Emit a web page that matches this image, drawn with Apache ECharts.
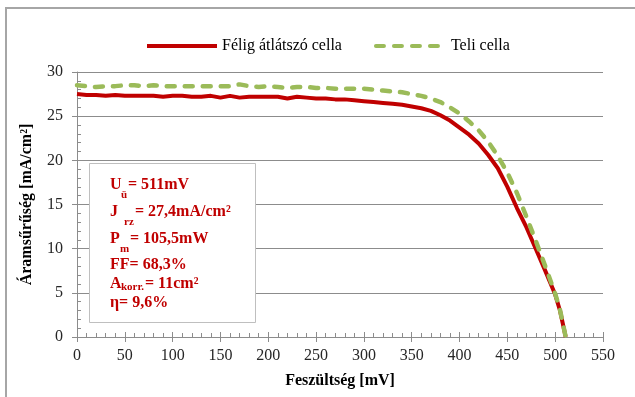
<!DOCTYPE html>
<html>
<head>
<meta charset="utf-8">
<script src="https://cdn.jsdelivr.net/npm/echarts@6/dist/echarts.min.js"></script>
<style>
  html, body { margin: 0; padding: 0; background: #fff; }
  #chart { width: 635px; height: 397px; }
</style>
</head>
<body>
<div id="chart"></div>
<script>
// feszültség [mV]
var voltage = [0, 10, 20, 30, 40, 50, 60, 70, 80, 90, 100, 110, 120, 130, 140, 150, 160, 170, 180, 190,
    200, 210, 220, 230, 240, 250, 260, 270, 280, 290, 300, 310, 320, 330, 340, 350, 360, 370, 380, 390,
    400, 410, 420, 430, 440, 450, 460, 470, 480, 490, 500, 505, 511];
// Félig átlátszó cella [mA/cm2]
var halfCell = [27.5, 27.4, 27.4, 27.3, 27.4, 27.3, 27.3, 27.3, 27.3, 27.2, 27.3, 27.3, 27.2, 27.2, 27.3, 27.1, 27.3, 27.1, 27.2, 27.2,
    27.2, 27.2, 27.0, 27.2, 27.1, 27.0, 27.0, 26.9, 26.9, 26.8, 26.7, 26.6, 26.5, 26.4, 26.3, 26.1, 25.9, 25.6, 25.1, 24.5,
    23.7, 22.9, 21.9, 20.6, 19.1, 17.0, 14.6, 12.4, 9.9, 7.4, 4.8, 3.0, 0];
// Teli cella [mA/cm2]
var fullCell = [28.5, 28.4, 28.3, 28.4, 28.4, 28.5, 28.5, 28.4, 28.5, 28.4, 28.4, 28.4, 28.4, 28.4, 28.4, 28.4, 28.4, 28.6, 28.4, 28.3,
    28.4, 28.3, 28.2, 28.3, 28.3, 28.2, 28.2, 28.1, 28.1, 28.1, 28.1, 28.0, 27.9, 27.8, 27.7, 27.5, 27.3, 27.0, 26.6, 26.0,
    25.3, 24.4, 23.4, 22.1, 20.5, 18.6, 16.3, 13.6, 10.8, 7.9, 4.9, 3.1, 0];

var seriesNames = ['Félig átlátszó cella', 'Teli cella'];

var font = 'Liberation Serif';
var red = '#c00000';
var green = '#9bbb59';
var axisGray = '#8c8c8c';

function pairs(ys) {
    var out = [];
    for (var i = 0; i < voltage.length; i++) {
        out.push([voltage[i], ys[i]]);
    }
    return out;
}

var chart = echarts.init(document.getElementById('chart'));

var boxText = function (x, y, text, size) {
    return {
        type: 'text',
        x: x,
        y: y,
        style: {
            text: text,
            fill: red,
            font: 'bold ' + size + 'px "' + font + '"',
            verticalAlign: 'middle'
        },
        z: 101
    };
};

var option = {
    animation: false,
    textStyle: { fontFamily: font },
    legend: {
        data: seriesNames,
        left: 140,
        top: 33,
        itemWidth: 70,
        itemHeight: 14,
        itemGap: 32,
        itemStyle: { opacity: 0 },
        lineStyle: { width: 4 },
        textStyle: { fontFamily: font, fontSize: 16, color: '#000' }
    },
    grid: {
        left: 77,
        right: 32,
        top: 72,
        bottom: 60,
        containLabel: false
    },
    xAxis: [{
        type: 'value',
        min: 0,
        max: 550,
        interval: 50,
        name: 'Feszültség [mV]',
        nameLocation: 'middle',
        nameGap: 36,
        nameTextStyle: { fontFamily: font, fontSize: 16, fontWeight: 'bold', color: '#000' },
        axisLine: { show: true, lineStyle: { color: axisGray, width: 1 } },
        axisTick: { show: true, length: 5, lineStyle: { color: axisGray } },
        axisLabel: { margin: 11, fontFamily: font, fontSize: 16, color: '#262626' },
        splitLine: { show: false }
    }, {
        type: 'value',
        position: 'bottom',
        min: 0,
        max: 550,
        interval: 50,
        axisLine: { show: false },
        axisTick: { show: true, inside: true, length: 5, lineStyle: { color: axisGray } },
        minorTick: { show: true, splitNumber: 5, length: 4, lineStyle: { color: axisGray } },
        axisLabel: { show: false },
        splitLine: { show: false }
    }],
    yAxis: [{
        type: 'value',
        min: 0,
        max: 30,
        interval: 5,
        name: 'Áramsűrűség [mA/cm²]',
        nameLocation: 'middle',
        nameGap: 42,
        nameTextStyle: { fontFamily: font, fontSize: 16, fontWeight: 'bold', color: '#000' },
        axisLine: { show: true, lineStyle: { color: axisGray, width: 1 } },
        axisTick: { show: true, length: 5, lineStyle: { color: axisGray } },
        axisLabel: { margin: 14, fontFamily: font, fontSize: 16, color: '#262626' },
        splitLine: { show: true, lineStyle: { color: axisGray, width: 1 } }
    }, {
        type: 'value',
        position: 'left',
        min: 0,
        max: 30,
        interval: 5,
        axisLine: { show: false },
        axisTick: { show: true, inside: true, length: 5, lineStyle: { color: axisGray } },
        minorTick: { show: true, splitNumber: 5, length: 4, lineStyle: { color: axisGray } },
        axisLabel: { show: false },
        splitLine: { show: false }
    }],
    series: [{
        name: seriesNames[0],
        type: 'line',
        xAxisIndex: 0,
        yAxisIndex: 0,
        showSymbol: false,
        symbol: 'none',
        data: pairs(halfCell),
        lineStyle: { color: red, width: 4 },
        itemStyle: { color: red }
    }, {
        name: seriesNames[1],
        type: 'line',
        xAxisIndex: 0,
        yAxisIndex: 0,
        showSymbol: false,
        symbol: 'none',
        data: pairs(fullCell),
        lineStyle: { color: green, width: 4.5, type: [8, 10], cap: 'round' },
        itemStyle: { color: green }
    }],
    graphic: [
        // chart frame (top and left edges visible)
        {
            type: 'rect',
            shape: { x: 6, y: 8, width: 700, height: 500 },
            style: { fill: null, stroke: '#a6a6a6', lineWidth: 2 },
            silent: true
        },
        // result box
        {
            type: 'rect',
            shape: { x: 89.5, y: 163.5, width: 166, height: 159 },
            style: { fill: '#fff', stroke: '#bfbfbf', lineWidth: 1 },
            z: 100
        },
        boxText(110, 185, 'U', 16),
        boxText(121, 195, 'ü', 11),
        boxText(128, 185, '= 511mV', 16),
        boxText(110, 212, 'J', 16),
        boxText(124, 222, 'rz', 11),
        boxText(135, 212, '= 27,4mA/cm²', 16),
        boxText(110, 239, 'P', 16),
        boxText(120, 249, 'm', 11),
        boxText(130, 239, '= 105,5mW', 16),
        boxText(110, 265, 'FF= 68,3%', 16),
        boxText(110, 284, 'A', 16),
        boxText(121, 287, 'korr.', 11),
        boxText(145, 284, '= 11cm²', 16),
        boxText(110, 303, 'η= 9,6%', 16)
    ]
};

chart.setOption(option);
</script>
</body>
</html>
